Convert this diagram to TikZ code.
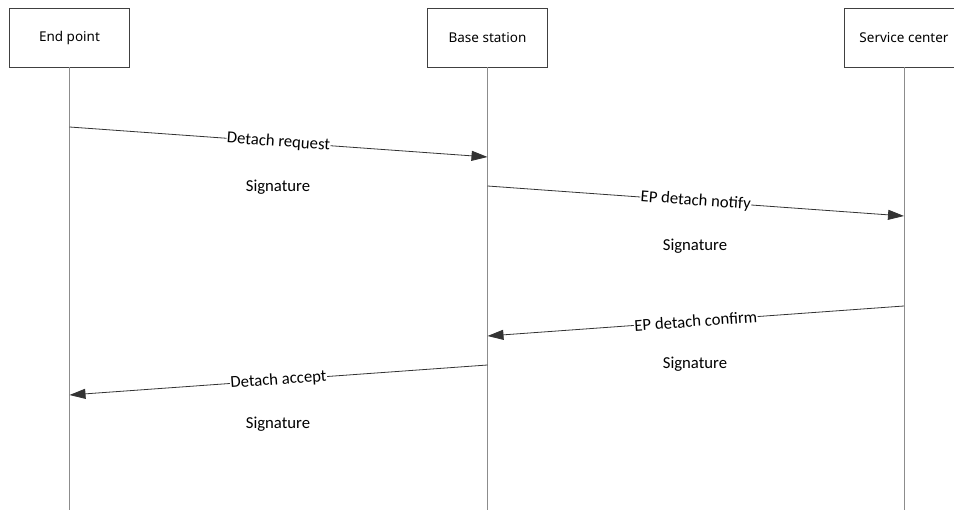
\documentclass[tikz,border=0pt]{standalone}
\usepackage{fontspec}
\setmainfont{Carlito}
\newfontfamily\headfont{Noto Sans}
\usetikzlibrary{arrows.meta}
\begin{document}
\begin{tikzpicture}[x=1pt,y=-1pt,
  actor/.style={draw=black!75, line width=0.9pt, minimum width=120pt, minimum height=59pt, inner sep=0pt, font=\headfont\fontsize{13.5}{16}\selectfont},
  life/.style={draw=black!45, line width=1pt},
  msg/.style={draw=black!80, line width=0.8pt, -{Triangle[length=16pt,width=10pt]}},
  mlabel/.style={fill=white, inner sep=0.5pt, sloped, font=\fontsize{16.7}{19}\selectfont},
  sig/.style={font=\fontsize{16.7}{19}\selectfont}]
\useasboundingbox (0,0) rectangle (954,510);
\fill[white] (0,0) rectangle (954,510);
\node[actor] (ep) at (69.5,37.5) {End point};
\node[actor] (bs) at (487.5,37.5) {Base station};
\node[actor] (sc) at (904,37.5) {Service center};
\coordinate (epb) at (69.5,510);
\coordinate (bsb) at (487.5,510);
\coordinate (scb) at (904,510);
\draw[life] (ep.south) -- (epb);
\draw[life] (bs.south) -- (bsb);
\draw[life] (sc.south) -- (scb);
% messages
\coordinate (m1a) at (69.5,127); \coordinate (m1b) at (487.5,157);
\coordinate (m2a) at (487.5,186); \coordinate (m2b) at (904,216);
\coordinate (m3a) at (904,306); \coordinate (m3b) at (487.5,336);
\coordinate (m4a) at (487.5,365); \coordinate (m4b) at (69.5,395);
\draw[msg] (m1a) -- node[mlabel] (l1) {Detach request} (m1b);
\draw[msg] (m2a) -- node[mlabel] (l2) {EP detach notify} (m2b);
\draw[msg] (m3a) -- node[mlabel] (l3) {EP detach confirm} (m3b);
\draw[msg] (m4a) -- node[mlabel] (l4) {Detach accept} (m4b);
\node[sig] (s1) at (278,187) {Signature};
\node[sig] (s2) at (695,246) {Signature};
\node[sig] (s3) at (695,364) {Signature};
\node[sig] (s4) at (278,424) {Signature};
\end{tikzpicture}
\end{document}
